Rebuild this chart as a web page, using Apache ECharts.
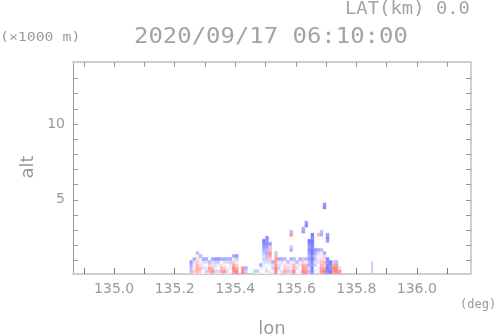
<!DOCTYPE html>
<html>
<head>
<meta charset="utf-8">
<script src="https://cdn.jsdelivr.net/npm/echarts@6/dist/echarts.min.js"></script>
<style>
  html, body { margin: 0; padding: 0; background: #fff; }
  #chart { width: 498px; height: 336px; }
</style>
</head>
<body>
<div id="chart"></div>
<script>
// radar cross-section: columns of cells, lon step 0.01 deg, alt step 0.2 km (from ground up)
const lonStart = 135.25;
const lonStep = 0.01;
const altStep = 0.2;

// doppler velocity (m/s) per column, bottom level first
const colVel = [
  [-3, -4, -4, -5, -6],
  [2, 3, 1, -1, -2, -5],
  [3, 4, 5, 4, 3, 2, 1, -4],
  [2, 3, 4, 2, 1, -1, -4],
  [-1, 0, -2, -1, -2, -5],
  [-2, -3, -1, 0, -2, -5],
  [2, 4, 5, 3, -4],
  [5, 6, 4, 2, -2, -5],
  [-2, -3, -1, -2, -3, -6],
  [-1, -2, 0, -1, -3, -6],
  [3, 5, 4, 2, 0, -5],
  [4, 6, 3, 1, -2, -5],
  [-1, -2, -1, 0, -2, -5],
  [-2, 0, 1, -1, -3, -5],
  [5, 6, 7, 5, 3, 1, -5],
  [6, 7, 5, 3, -1, -3, -6],
  [],
  [7, 7, 6],
  [-4, -3, -5],
  [],
  [],
  [-2, -3],
  [-1, -3],
  [-2, 0, -1, -5],
  [-1, 0, 1, -1, -2, -3, -2, -4, -5, -6, -7, -8],
  [0, -2, -1, 0, -2, -3, -4, -5, -4, -6, -7, -6, -7],
  [2, 1, 0, -1, -2, 3, 5, 6, 4, -3, -6],
  [-2, -1, -3, -2, -5],
  [6, 7, 7, 6, 5, 6, 4, -3],
  [1, -1, -3, -2, -1, -5],
  [-3, -2, 0, -1, -2, -5],
  [4, 5, 3, 2, 1, -4],
  [2, 4, 3, -1, -4],
  [-2, -3, -1, 2, -1, -5],
  [6, 7, 5, 4, 2, -4],
  [-1, 0, -2, -1, -4],
  [1, -1, 0, 2, -1, -5],
  [6, 7, 6, 5, 3, -3],
  [7, 6, 5, 4, 1, -4],
  [-3, -4, -2, -5, -4, -6, -5, -6, -7, -6, -7, -8],
  [-6, -7, -8, -6, -7, -8, -7, -8, -8, -7, -8, -8, -7, -8],
  [-2, -1, 0, -3, -2, -4, -3, -5, -6],
  [2, 1, -1, 0, -2, -1, 1, -2, -5],
  [5, 6, 5, 4, 3, 2, 1, -1, -4],
  [6, 7, 5, 3, 4, 2, -2, -5],
  [-6, -7, -8, -7, -6, -7],
  [-7, -8, -6, -7, -8],
  [5, 6, 7, 5, -3],
  [6, 7, 7, 6, -4],
  [5, 6, -2]
];

// isolated echoes above the columns
const isoLon = [135.58, 135.58, 135.58, 135.58, 135.62, 135.62, 135.63, 135.63, 135.67, 135.68, 135.68, 135.69, 135.69, 135.70, 135.70, 135.70];
const isoAlt = [1.6, 1.8, 2.6, 2.8, 2.8, 3.0, 3.2, 3.4, 2.6, 2.6, 2.8, 4.4, 4.6, 2.2, 2.4, 2.6];
const isoVel = [-5, -3, 6, -4, -6, -5, -7, -6, 4, -5, -4, -7, -6, -6, -7, -6];

// thin echo far east
const thinLon = [135.851];
const thinTop = [0.95];
const thinVel = [-4];

const xLabels = [135.0, 135.2, 135.4, 135.6, 135.8, 136.0];
const xTicks = [134.9, 135.0, 135.1, 135.2, 135.3, 135.4, 135.5, 135.6, 135.7, 135.8, 135.9, 136.0, 136.1];
const yLabels = [5, 10];
const yTicks = [1, 2, 3, 4, 5, 6, 7, 8, 9, 10, 11, 12, 13];

const cells = [];
colVel.forEach((col, i) => {
  col.forEach((v, k) => {
    cells.push([lonStart + i * lonStep, k * altStep, v, lonStep, altStep]);
  });
});
isoLon.forEach((lon, i) => {
  cells.push([lon, isoAlt[i], isoVel[i], lonStep, altStep]);
});
thinLon.forEach((lon, i) => {
  cells.push([lon, 0, thinVel[i], 0.003, thinTop[i]]);
});

function renderCell(params, api) {
  const lon = api.value(0), alt = api.value(1);
  const p0 = api.coord([lon, alt]);
  const p1 = api.coord([lon + api.value(3), alt + api.value(4)]);
  const cs = params.coordSys;
  const shape = echarts.graphic.clipRectByRect(
    { x: p0[0], y: p1[1], width: p1[0] - p0[0], height: p0[1] - p1[1] },
    { x: cs.x, y: cs.y, width: cs.width, height: cs.height }
  );
  if (!shape) return null;
  const c = api.visual('color');
  return { type: 'rect', shape: shape, style: { fill: c, stroke: c, lineWidth: 0.4 } };
}

const txt = '#9a9a9a';
const chart = echarts.init(document.getElementById('chart'));

chart.setOption({
  animation: false,
  backgroundColor: '#fff',
  grid: { left: 73, right: 27, top: 62, bottom: 62 },
  visualMap: {
    show: false,
    type: 'continuous',
    seriesIndex: 0,
    dimension: 2,
    min: -8,
    max: 8,
    inRange: { color: ['#7878ff', '#ffffff', '#ff7070'] }
  },
  xAxis: [
    {
      type: 'value', position: 'bottom', min: 134.864, max: 136.179,
      axisLine: { show: true, lineStyle: { color: '#cfcfcf', width: 2 } },
      axisTick: { show: true, inside: true, length: 6, customValues: xTicks, lineStyle: { color: '#777' } },
      axisLabel: {
        customValues: xLabels, margin: 8, color: txt, fontSize: 14, fontFamily: 'DejaVu Sans',
        formatter: v => v.toFixed(1)
      },
      splitLine: { show: false }
    },
    {
      type: 'value', position: 'top', min: 134.864, max: 136.179,
      axisLine: { show: true, lineStyle: { color: '#cfcfcf', width: 2 } },
      axisTick: { show: true, inside: true, length: 5, customValues: xTicks, lineStyle: { color: '#999' } },
      axisLabel: { show: false },
      splitLine: { show: false }
    }
  ],
  yAxis: [
    {
      type: 'value', position: 'left', min: 0.11, max: 14.09,
      axisLine: { show: true, lineStyle: { color: '#999', width: 1 } },
      axisTick: { show: true, inside: true, length: 5, customValues: yTicks, lineStyle: { color: '#999' } },
      axisLabel: { customValues: yLabels, margin: 8, color: txt, fontSize: 14, fontFamily: 'DejaVu Sans' },
      splitLine: { show: false }
    },
    {
      type: 'value', position: 'right', min: 0.11, max: 14.09,
      axisLine: { show: true, lineStyle: { color: '#cfcfcf', width: 2 } },
      axisTick: { show: true, inside: true, length: 5, customValues: yTicks, lineStyle: { color: '#999' } },
      axisLabel: { show: false },
      splitLine: { show: false }
    }
  ],
  series: [
    {
      type: 'custom',
      xAxisIndex: 0,
      yAxisIndex: 0,
      renderItem: renderCell,
      data: cells,
      clip: true
    }
  ],
  graphic: [
    { type: 'text', x: 345, y: 10, scaleX: 1.11, style: { text: 'LAT(km) 0.0', font: '17px "DejaVu Sans Mono"', fill: '#a4a4a4', textVerticalAlign: 'middle' } },
    { type: 'text', x: 134, y: 38, scaleX: 1.14, style: { text: '2020/09/17 06:10:00', font: '21px "DejaVu Sans Mono"', fill: '#a4a4a4', textVerticalAlign: 'middle' } },
    { type: 'text', x: 0, y: 38, scaleX: 1.14, style: { text: '(×1000 m)', font: '13px "DejaVu Sans Mono"', fill: txt, textVerticalAlign: 'middle' } },
    { type: 'text', x: 460, y: 305, style: { text: '(deg)', font: '12px "DejaVu Sans Mono"', fill: txt, textVerticalAlign: 'middle' } },
    { type: 'text', x: 272, y: 329, style: { text: 'lon', font: '18px "DejaVu Sans"', fill: txt, textAlign: 'center', textVerticalAlign: 'middle' } },
    { type: 'text', x: 28, y: 167, rotation: Math.PI / 2, style: { text: 'alt', font: '18px "DejaVu Sans"', fill: txt, textAlign: 'center', textVerticalAlign: 'middle' } }
  ]
});
</script>
</body>
</html>
